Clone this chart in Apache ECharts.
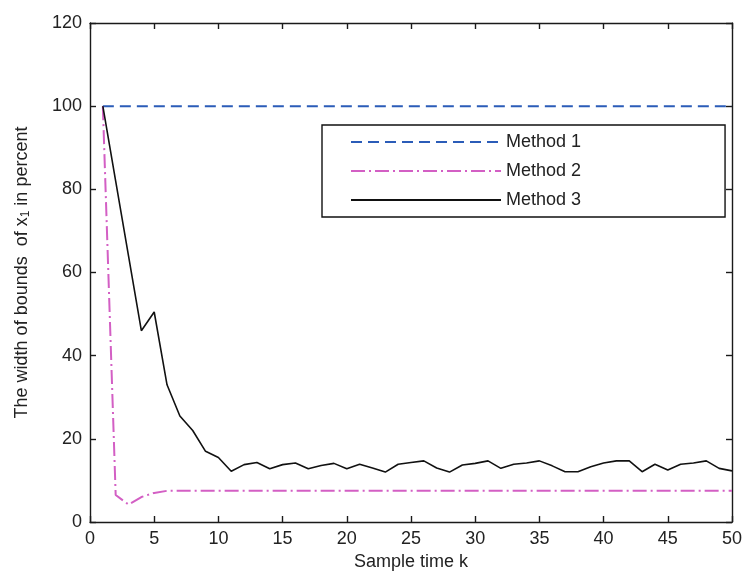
<!DOCTYPE html>
<html>
<head>
<meta charset="utf-8">
<script src="https://cdn.jsdelivr.net/npm/echarts@6/dist/echarts.min.js"></script>
<style>html,body{margin:0;padding:0;background:#fff}#c{width:745px;height:576px}</style>
</head>
<body>
<div id="c"></div>
<script>
const kValues = [1,2,3,4,5,6,7,8,9,10,11,12,13,14,15,16,17,18,19,20,21,22,23,24,25,26,27,28,29,30,31,32,33,34,35,36,37,38,39,40,41,42,43,44,45,46,47,48,49,50];
const method1 = [100,100,100,100,100,100,100,100,100,100,100,100,100,100,100,100,100,100,100,100,100,100,100,100,100,100,100,100,100,100,100,100,100,100,100,100,100,100,100,100,100,100,100,100,100,100,100,100,100,100];
const method2 = [100,6.5,4.2,6,7,7.5,7.5,7.5,7.5,7.5,7.5,7.5,7.5,7.5,7.5,7.5,7.5,7.5,7.5,7.5,7.5,7.5,7.5,7.5,7.5,7.5,7.5,7.5,7.5,7.5,7.5,7.5,7.5,7.5,7.5,7.5,7.5,7.5,7.5,7.5,7.5,7.5,7.5,7.5,7.5,7.5,7.5,7.5,7.5,7.5];
const method3 = [100,82,64,46,50.5,33,25.5,22,17,15.5,12.2,13.8,14.3,12.8,13.8,14.2,12.8,13.6,14.1,12.8,13.9,13,12,13.9,14.3,14.7,13,12,13.7,14.1,14.7,12.9,13.9,14.2,14.7,13.5,12.1,12.1,13.3,14.2,14.7,14.7,12.1,13.9,12.5,13.9,14.2,14.7,12.9,12.3];
const seriesNames = ['Method 1','Method 2','Method 3'];
const xTitle = 'Sample time k';

const font = 'Liberation Sans, Arial, sans-serif';
const axisColor = '#1a1a1a';
const pair = a => kValues.map((k,i)=>[k,a[i]]);

const chart = echarts.init(document.getElementById('c'), null, {renderer:'canvas'});
const baseAxis = {
  axisLine:{show:true,onZero:false,lineStyle:{color:axisColor,width:1.4}},
  axisTick:{show:true,inside:true,length:6,lineStyle:{color:axisColor,width:1.4}},
  splitLine:{show:false}
};
chart.setOption({
  animation:false,
  backgroundColor:'#fff',
  grid:{left:90,right:10,top:23,bottom:52,containLabel:false},
  legend:{
    data:seriesNames,
    orient:'vertical',
    left:322, top:125,
    padding:[8,144,8,28],
    itemWidth:150, itemHeight:14, itemGap:11,
    borderColor:'#111', borderWidth:1.4,
    backgroundColor:'#fff',
    itemStyle:{opacity:0},
    textStyle:{fontFamily:font,fontSize:18,color:'#222'},
    selectedMode:false
  },
  xAxis:[
    Object.assign({}, baseAxis, {type:'value',min:0,max:50,interval:5,position:'bottom',
      name:xTitle,nameLocation:'middle',nameGap:31,
      nameTextStyle:{fontFamily:font,fontSize:18,color:'#222'},
      axisLabel:{fontFamily:font,fontSize:18,color:'#222',margin:8}}),
    Object.assign({}, baseAxis, {type:'value',min:0,max:50,interval:5,position:'top',axisLabel:{show:false}})
  ],
  yAxis:[
    Object.assign({}, baseAxis, {type:'value',min:0,max:120,interval:20,position:'left',
      name:'The width of bounds  of x{sub|1} in percent',nameLocation:'middle',nameGap:58,nameRotate:90,
      nameTextStyle:{fontFamily:font,fontSize:18,color:'#222',
        rich:{sub:{fontFamily:font,fontSize:12,color:'#222',verticalAlign:'bottom',padding:[8,0,0,0]}}},
      axisLabel:{fontFamily:font,fontSize:18,color:'#222',margin:8}}),
    Object.assign({}, baseAxis, {type:'value',min:0,max:120,interval:20,position:'right',axisLabel:{show:false}})
  ],
  series:[
    {name:seriesNames[0],type:'line',data:pair(method1),showSymbol:false,symbol:'none',
      lineStyle:{color:'#2b5cb8',width:2,type:[11,6]},itemStyle:{color:'#2b5cb8'}},
    {name:seriesNames[1],type:'line',data:pair(method2),showSymbol:false,symbol:'none',
      lineStyle:{color:'#d35fc4',width:2,type:[14,4,2,4]},itemStyle:{color:'#d35fc4'}},
    {name:seriesNames[2],type:'line',data:pair(method3),showSymbol:false,symbol:'none',
      lineStyle:{color:'#111',width:1.6},itemStyle:{color:'#111'}}
  ]
});
</script>
</body>
</html>
